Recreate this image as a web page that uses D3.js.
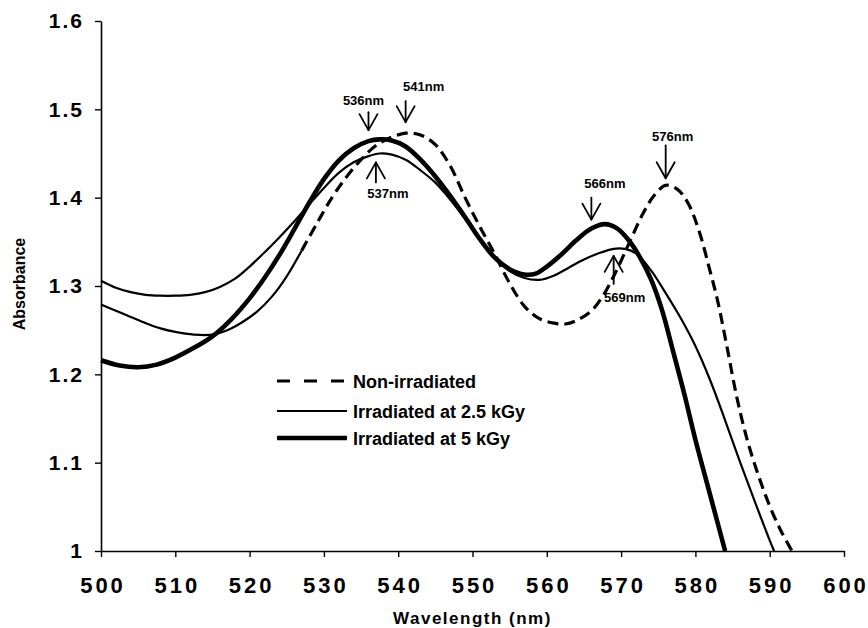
<!DOCTYPE html>
<html>
<head>
<meta charset="utf-8">
<script src="https://cdn.jsdelivr.net/npm/d3@7"></script>
<style>
  body { margin: 0; background: #fff; }
  svg { display: block; }
</style>
</head>
<body>
<svg id="chart" width="868" height="628"></svg>
<script>
// ---- data -------------------------------------------------------------
const xTickValues = [500, 510, 520, 530, 540, 550, 560, 570, 580, 590, 600];
const yTickValues = [1.0, 1.1, 1.2, 1.3, 1.4, 1.5, 1.6];
const yTickLabels = ["1", "1.1", "1.2", "1.3", "1.4", "1.5", "1.6"];

const seriesNames = ["Non-irradiated", "Irradiated at 2.5 kGy", "Irradiated at 5 kGy"];

// Non-irradiated spectrum
const nonIrrNm  = [500, 502, 504, 506, 508, 510, 512.5, 515, 517, 519, 521, 523, 525, 527,
                   529, 531, 533, 535, 537, 539, 541, 543, 545, 547, 549, 551, 553, 555,
                   557, 559, 561, 562.5, 564, 566, 567.5, 569, 571, 573, 574.5, 576, 577.5,
                   579, 580.5, 582, 583, 584.3, 585.6, 587, 588.5, 590, 591.5, 593];
const nonIrrAbs = [1.279, 1.272, 1.265, 1.258, 1.252, 1.248, 1.245, 1.245, 1.250, 1.259, 1.271, 1.288, 1.311, 1.340,
                   1.370, 1.399, 1.423, 1.443, 1.459, 1.468, 1.473, 1.471, 1.460, 1.436, 1.400, 1.367, 1.336, 1.303,
                   1.277, 1.263, 1.258, 1.257, 1.261, 1.272, 1.288, 1.311, 1.347, 1.383, 1.403, 1.414, 1.410,
                   1.394, 1.362, 1.316, 1.283, 1.229, 1.173, 1.125, 1.085, 1.051, 1.023, 1.000];

// Irradiated at 2.5 kGy
const kgy25Nm  = [500, 502, 504, 506, 508, 510, 512, 514, 516, 518, 520, 522, 524, 526, 528,
                  530, 532, 534, 536, 537.5, 539, 541, 543, 545, 547, 549, 551, 553, 555,
                  557, 559, 561, 563, 565, 567, 569, 570.5, 572, 574, 576, 578, 580, 582,
                  584, 586, 588, 590, 590.6];
const kgy25Abs = [1.306, 1.298, 1.293, 1.290, 1.289, 1.289, 1.290, 1.293, 1.299, 1.308, 1.322, 1.338, 1.355, 1.373, 1.392,
                  1.411, 1.428, 1.440, 1.447, 1.450, 1.449, 1.443, 1.431, 1.417, 1.398, 1.376, 1.352, 1.332, 1.317,
                  1.309, 1.307, 1.312, 1.321, 1.330, 1.337, 1.342, 1.342, 1.337, 1.318, 1.292, 1.264, 1.232, 1.193,
                  1.148, 1.101, 1.056, 1.012, 1.000];

// Irradiated at 5 kGy
const kgy5Nm  = [500, 502.5, 505, 507.5, 510, 512.5, 515, 517.5, 520, 522, 524, 526, 528, 530,
                 532, 534, 536, 537.5, 539, 541, 543, 545, 547, 549, 551, 553, 555, 557,
                 558.5, 560, 562, 564, 566, 567.8, 569.5, 571, 572.5, 574, 575.5, 577, 578.5,
                 580, 582, 584];
const kgy5Abs = [1.216, 1.210, 1.208, 1.211, 1.219, 1.230, 1.243, 1.262, 1.286, 1.309, 1.335, 1.364, 1.394, 1.421,
                 1.442, 1.456, 1.464, 1.466, 1.465, 1.458, 1.443, 1.424, 1.402, 1.378, 1.353, 1.332, 1.319, 1.313,
                 1.314, 1.322, 1.336, 1.352, 1.365, 1.370, 1.365, 1.352, 1.333, 1.308, 1.273, 1.226, 1.178,
                 1.126, 1.063, 1.000];

// Peak annotations: wavelength, series index, side of the curve
const peakNm     = [536, 541, 537, 566, 576, 569];
const peakSeries = [2, 0, 1, 2, 0, 1];
const peakSide   = ["above", "above", "below", "above", "above", "below"];

// ---- layout -----------------------------------------------------------
const svg = d3.select("#chart");
const FONT = "'Liberation Sans', Arial, Helvetica, sans-serif";
const plot = { left: 101, right: 844, top: 21, bottom: 551 };

const x = d3.scaleLinear().domain([500, 600]).range([plot.left, plot.right]);
const y = d3.scaleLinear().domain([1.0, 1.6]).range([plot.bottom, plot.top]);

const series = [
  { nm: nonIrrNm, abs: nonIrrAbs },
  { nm: kgy25Nm,  abs: kgy25Abs },
  { nm: kgy5Nm,   abs: kgy5Abs }
].map(s => s.nm.map((n, i) => ({ nm: n, abs: s.abs[i] })));

const line = d3.line()
  .x(d => x(d.nm))
  .y(d => y(d.abs))
  .curve(d3.curveCatmullRom.alpha(0.5));

// ---- axes -------------------------------------------------------------
const xAxis = svg.append("g")
  .attr("transform", `translate(0,${plot.bottom})`)
  .call(d3.axisBottom(x).tickValues(xTickValues).tickSizeInner(6).tickSizeOuter(0).tickPadding(20)
          .tickFormat(d3.format("d")));

const yAxis = svg.append("g")
  .attr("transform", `translate(${plot.left},0)`)
  .call(d3.axisLeft(y).tickValues(yTickValues).tickSizeInner(6).tickSizeOuter(0).tickPadding(11)
          .tickFormat((d, i) => yTickLabels[i]));

[xAxis, yAxis].forEach(g => {
  g.select(".domain").attr("stroke", "#000").attr("stroke-width", 1.6);
  g.selectAll(".tick line").attr("stroke", "#000").attr("stroke-width", 1.4);
  g.selectAll(".tick text")
    .attr("fill", "#000")
    .style("font-family", FONT)
    .style("font-weight", "bold");
});
xAxis.selectAll(".tick text").style("font-size", "22px").style("letter-spacing", "3px").attr("dx", "1.5");
yAxis.selectAll(".tick text").style("font-size", "21px").style("letter-spacing", "2px");

svg.append("text")
  .attr("x", (plot.left + plot.right) / 2)
  .attr("y", 624)
  .attr("text-anchor", "middle")
  .style("font-family", FONT).style("font-weight", "bold")
  .style("font-size", "17px").style("letter-spacing", "1.5px")
  .text("Wavelength (nm)");

svg.append("text")
  .attr("transform", "translate(25,284) rotate(-90)")
  .attr("text-anchor", "middle")
  .style("font-family", FONT).style("font-weight", "bold")
  .style("font-size", "16px")
  .text("Absorbance");

// ---- curves -----------------------------------------------------------
const curves = svg.append("g").attr("fill", "none").attr("stroke", "#000")
  .attr("stroke-linejoin", "round").attr("stroke-linecap", "butt");

// Non-irradiated: the low part is drawn as a fine solid trace, the rest dashed
const splitNm = 527;
curves.append("path")
  .datum(series[0].filter(d => d.nm <= splitNm))
  .attr("stroke-width", 2.2)
  .attr("d", line);
curves.append("path")
  .datum(series[0].filter(d => d.nm >= splitNm))
  .attr("stroke-width", 3.2)
  .attr("stroke-dasharray", "11,6")
  .attr("d", line);

curves.append("path")
  .datum(series[1])
  .attr("stroke-width", 2.2)
  .attr("d", line);

curves.append("path")
  .datum(series[2])
  .attr("stroke-width", 4.6)
  .attr("d", line);

// ---- peak arrows ------------------------------------------------------
function valueAt(pts, nm) {
  const i = d3.bisector(d => d.nm).left(pts, nm);
  if (i <= 0) return pts[0].abs;
  if (i >= pts.length) return pts[pts.length - 1].abs;
  const a = pts[i - 1], b = pts[i];
  return a.abs + (b.abs - a.abs) * (nm - a.nm) / (b.nm - a.nm);
}

// gap from curve to arrow tip, shaft length, label offsets
const arrowLayout = [
  { gap: 11, shaft: 18, dx: -5,   dy: 7 },
  { gap: 11, shaft: 21, dx: 18,   dy: 10 },
  { gap: 8,  shaft: 20, dx: 12,   dy: 16 },
  { gap: 9,  shaft: 22, dx: 13.5, dy: 10 },
  { gap: 7,  shaft: 33, dx: 7,    dy: 4 },
  { gap: 7,  shaft: 28, dx: 11,   dy: 18 }
];

const arrows = svg.append("g");
peakNm.forEach((nm, i) => {
  const L = arrowLayout[i];
  const sgn = peakSide[i] === "above" ? -1 : 1;
  const px = x(nm);
  const cy = y(valueAt(series[peakSeries[i]], nm));
  const tip = cy + sgn * L.gap;
  const end = tip + sgn * L.shaft;
  const g = arrows.append("g").attr("fill", "none").attr("stroke", "#000")
    .attr("stroke-width", 1.8).attr("stroke-linecap", "round").attr("stroke-linejoin", "round");
  g.append("line").attr("x1", px).attr("x2", px).attr("y1", end).attr("y2", tip);
  g.append("path").attr("d", `M${px - 9},${tip + sgn * 16}L${px},${tip}L${px + 9},${tip + sgn * 16}`);
  arrows.append("text")
    .attr("x", px + L.dx)
    .attr("y", sgn < 0 ? end - L.dy : end + L.dy)
    .attr("text-anchor", "middle")
    .style("font-family", FONT).style("font-weight", "bold").style("font-size", "13px")
    .text(`${nm}nm`);
});

// ---- legend -----------------------------------------------------------
const legendRows = [381, 411, 438];
const legendStyles = [
  { w: 3.2, dash: "13,14" },
  { w: 2.2, dash: null },
  { w: 4.6, dash: null }
];
const legend = svg.append("g");
seriesNames.forEach((name, i) => {
  const ly = legendRows[i];
  legend.append("line")
    .attr("x1", 277).attr("x2", 347).attr("y1", ly).attr("y2", ly)
    .attr("stroke", "#000").attr("stroke-width", legendStyles[i].w)
    .attr("stroke-dasharray", legendStyles[i].dash);
  legend.append("text")
    .attr("x", 353).attr("y", ly + 6.5)
    .style("font-family", FONT).style("font-weight", "bold").style("font-size", "18px")
    .text(name);
});
</script>
</body>
</html>
